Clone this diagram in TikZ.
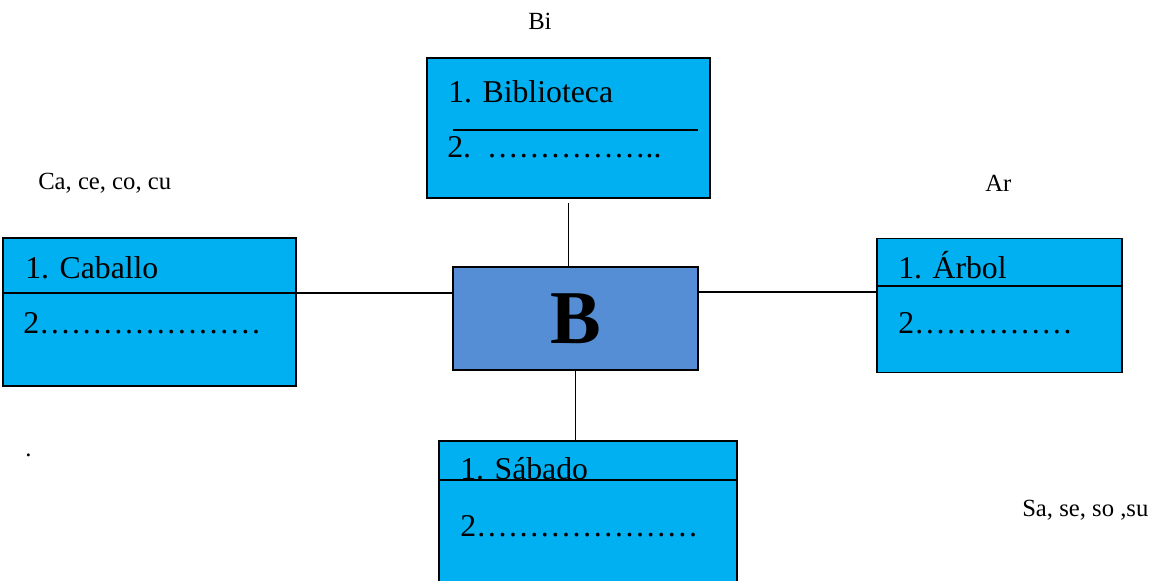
\documentclass[tikz,border=0pt]{standalone}
\usepackage{fontspec}
\setmainfont{Liberation Serif}
\usetikzlibrary{positioning}
\definecolor{cyanbx}{HTML}{00B0F0}
\definecolor{bluebx}{HTML}{558ED5}
\newcommand\dts[1]{\foreach\i in {1,...,#1}{…}}
\tikzset{bx/.append style={draw,rectangle,line width=1.4pt,inner sep=0pt,outer sep=0pt}}
\tikzset{cy/.append style={fill=cyanbx}}
\tikzset{sz/.style 2 args={minimum width=#1*0.75pt,minimum height=#2*0.75pt}}
\tikzset{tx/.append style={anchor=base west,inner sep=0pt,font=\fontsize{23.8}{28}\selectfont}}
\tikzset{lb/.append style={anchor=base west,inner sep=0pt,font=\fontsize{18.5}{22}\selectfont}}
\tikzset{ln/.append style={line width=1.1pt}}

\begin{document}
\begin{tikzpicture}[x=0.75pt,y=-0.75pt]
                \useasboundingbox (0,0) rectangle (1160,581);
                % boxes
                \node[bx,cy,sz={283}{140}] (bib) at (568.5,128) {};
                \node[bx,cy,sz={293}{148}] (cab) at (149.5,312) {};
                \node[bx,fill=bluebx,sz={245}{103}] (bb) at (575.5,318.5) {};
                \node[bx,cy,sz={245}{134}] (arb) at (999.5,305.5) {};
                \node[bx,cy,sz={298}{150}] (sab) at (588,516) {};
                \node[font=\fontsize{57}{60}\selectfont\bfseries] (b) at (bb) {B};
                % dividers
                \draw[ln] (453,130) -- (698,130);
                \draw[ln] (arb.west |- 0,286) -- (arb.east |- 0,286);
                % connectors
                \draw[ln,shorten <=5*0.75pt] (bib.south) -- (bib.south |- bb.north);
                \draw[ln] (bb.south) -- (bb.south |- sab.north);
                \draw[ln] (cab.west |- 0,293) -- (bb.west |- 0,293);
                \draw[ln] (bb.east |- 0,292) -- (arb.west |- 0,292);
                % texts
                \node[tx] (bib1) at (448,103) {1. Biblioteca};
                \node[tx] (bib2) at (447,158) {2.\ \ \dts{5}..};
                \node[tx] (cab1) at (25,278) {1. Caballo};
                \node[tx] (cab2) at (23,333) {2\dts{7}};
                \node[tx] (arb1) at (898,278) {1. Árbol};
                \node[tx] (arb2) at (898,333) {2\dts{5}};
                \node[tx] (sab1) at (460,479) {1. Sábado};
                \filldraw[bx,cy] (sab.west |- 0,480) rectangle (sab.east |- 0,600);
                \node[tx] (sab2) at (460,536) {2\dts{7}};
                % labels
                \node[lb] (bi) at (528,30) {Bi};
                \node[lb] (ca) at (38,190) {Ca, ce, co, cu};
                \node[lb] (ar) at (985,191) {Ar};
                \node[lb] (sa) at (1022,516) {Sa, se, so ,su};
                \node[lb] (dot) at (25,456) {.};
            \end{tikzpicture}
\end{document}
